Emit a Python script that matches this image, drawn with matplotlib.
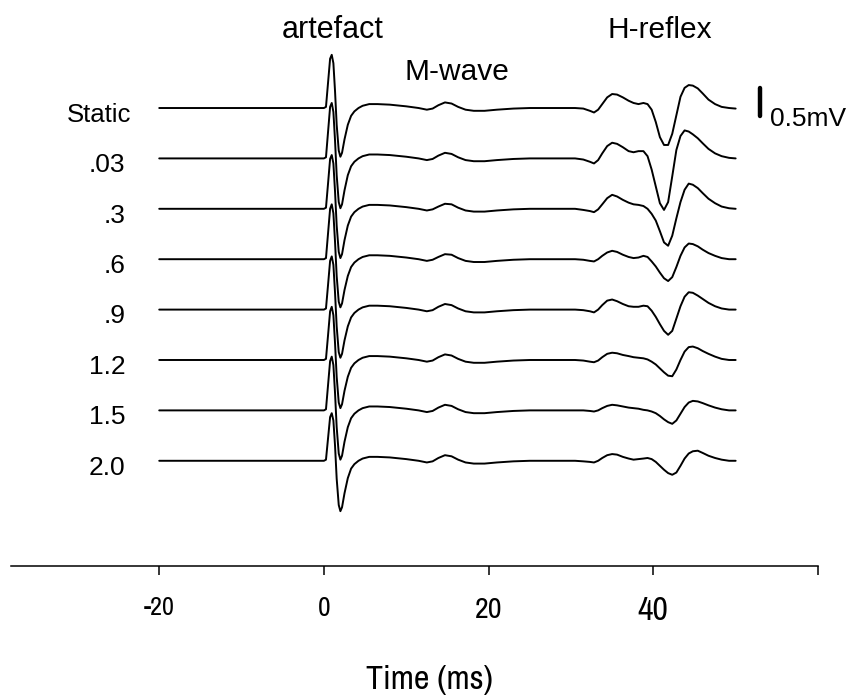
import numpy as np
import matplotlib
matplotlib.use("Agg")
import matplotlib.pyplot as plt
from matplotlib import font_manager

# ---- data: time base (ms) and EMG traces (mV, relative to each baseline) ----
time_ms = [-20, -10, 0, 0.25, 0.5, 0.75, 0.95, 1.15, 1.35, 1.55, 1.8, 2.0, 2.2,
           2.5, 2.9, 3.3, 3.7, 4.2, 4.7, 5.5, 6.5, 8, 10, 11.5, 12.5, 13.2, 13.9,
           14.7, 15.5, 16.3, 17.2, 18.2, 19.5, 21, 23, 25, 27, 29,
           30.5, 31.5, 32.3, 32.8, 33.3, 33.8, 34.4, 35.0, 35.6, 36.3, 37.0,
           37.6, 38.2, 38.8, 39.3, 39.8, 40.3, 40.8, 41.3, 41.8, 42.3, 42.8,
           43.3, 43.8, 44.3, 44.8, 45.4, 46.0, 46.7, 47.5, 48.3, 49.2, 50]

trace_static = [0, 0, 0, 0.02, 0.45, 0.88, 0.95, 0.80, 0.30, -0.30, -0.76, -0.87, -0.80,
                -0.56, -0.30, -0.14, -0.06, 0.00, 0.04, 0.07, 0.07, 0.06, 0.03, 0.00, -0.03, -0.01, 0.05,
                0.10, 0.08, 0.02, -0.03, -0.05, -0.05, -0.03, -0.01, 0.00, 0.00, 0.00,
                0.00, -0.01, -0.05, -0.08, -0.03, 0.07, 0.19, 0.25, 0.24, 0.19, 0.13,
                0.09, 0.07, 0.09, 0.07, -0.03, -0.25, -0.52, -0.66, -0.66, -0.46, -0.13,
                0.20, 0.36, 0.41, 0.40, 0.35, 0.26, 0.15, 0.07, 0.02, 0.00, -0.01]
trace_003 = [0, 0, 0, 0.02, 0.47, 0.92, 0.99, 0.83, 0.32, -0.30, -0.78, -0.89, -0.82,
             -0.57, -0.30, -0.14, -0.06, 0.00, 0.04, 0.07, 0.07, 0.06, 0.03, 0.00, -0.03, -0.01, 0.05,
             0.10, 0.08, 0.02, -0.03, -0.05, -0.05, -0.03, -0.01, 0.00, 0.00, 0.00,
             0.00, -0.02, -0.06, -0.09, -0.03, 0.09, 0.22, 0.28, 0.26, 0.20, 0.13,
             0.11, 0.13, 0.13, 0.04, -0.20, -0.50, -0.80, -0.92, -0.78, -0.32, 0.15,
             0.40, 0.50, 0.48, 0.43, 0.36, 0.27, 0.17, 0.09, 0.04, 0.01, 0.00]
trace_03 = [0, 0, 0, 0.02, 0.45, 0.89, 0.96, 0.81, 0.31, -0.30, -0.77, -0.88, -0.81,
            -0.56, -0.30, -0.14, -0.06, 0.00, 0.04, 0.07, 0.07, 0.06, 0.03, 0.00, -0.03, -0.01, 0.04,
            0.09, 0.08, 0.02, -0.03, -0.05, -0.05, -0.03, -0.01, 0.00, 0.00, 0.00,
            0.00, -0.02, -0.04, -0.06, -0.01, 0.08, 0.19, 0.25, 0.22, 0.16, 0.11,
            0.08, 0.07, 0.05, 0.00, -0.09, -0.21, -0.40, -0.60, -0.66, -0.48, -0.17,
            0.12, 0.34, 0.45, 0.43, 0.37, 0.28, 0.18, 0.10, 0.04, 0.01, 0.00]
trace_06 = [0, 0, 0, 0.02, 0.46, 0.90, 0.98, 0.82, 0.31, -0.30, -0.76, -0.86, -0.79,
            -0.55, -0.30, -0.14, -0.06, 0.00, 0.04, 0.07, 0.07, 0.06, 0.03, 0.00, -0.03, -0.01, 0.04,
            0.09, 0.08, 0.02, -0.03, -0.05, -0.05, -0.03, -0.01, 0.00, 0.00, 0.00,
            0.00, -0.01, -0.03, -0.04, 0.00, 0.06, 0.12, 0.15, 0.13, 0.08, 0.04,
            0.02, 0.03, 0.06, 0.04, -0.04, -0.13, -0.24, -0.34, -0.39, -0.32, -0.14,
            0.06, 0.21, 0.28, 0.27, 0.23, 0.17, 0.11, 0.06, 0.02, 0.00, 0.00]
trace_09 = [0, 0, 0, 0.02, 0.44, 0.87, 0.95, 0.80, 0.30, -0.30, -0.76, -0.86, -0.79,
            -0.55, -0.30, -0.14, -0.06, 0.00, 0.04, 0.07, 0.07, 0.06, 0.03, 0.00, -0.03, -0.01, 0.05,
            0.10, 0.08, 0.02, -0.03, -0.05, -0.05, -0.03, -0.01, 0.00, 0.00, 0.00,
            0.00, -0.01, -0.03, -0.05, 0.00, 0.08, 0.16, 0.18, 0.15, 0.10, 0.06,
            0.05, 0.05, 0.07, 0.06, -0.02, -0.13, -0.26, -0.38, -0.45, -0.38, -0.16,
            0.06, 0.23, 0.31, 0.30, 0.25, 0.19, 0.12, 0.06, 0.02, 0.00, 0.00]
trace_12 = [0, 0, 0, 0.02, 0.44, 0.87, 0.95, 0.80, 0.30, -0.30, -0.76, -0.86, -0.79,
            -0.55, -0.30, -0.14, -0.06, 0.00, 0.04, 0.07, 0.07, 0.06, 0.03, 0.00, -0.03, -0.01, 0.05,
            0.10, 0.08, 0.02, -0.03, -0.05, -0.05, -0.03, -0.01, 0.00, 0.00, 0.00,
            0.00, -0.01, -0.03, -0.04, -0.01, 0.05, 0.11, 0.13, 0.12, 0.09, 0.07,
            0.05, 0.04, 0.03, 0.01, -0.03, -0.08, -0.15, -0.22, -0.28, -0.29, -0.17,
            0.00, 0.15, 0.23, 0.24, 0.21, 0.16, 0.11, 0.06, 0.02, 0.00, 0.00]
trace_15 = [0, 0, 0, 0.02, 0.45, 0.88, 0.96, 0.81, 0.31, -0.30, -0.77, -0.88, -0.81,
            -0.56, -0.30, -0.14, -0.06, 0.00, 0.04, 0.07, 0.07, 0.06, 0.03, 0.00, -0.03, -0.01, 0.05,
            0.10, 0.08, 0.02, -0.03, -0.05, -0.05, -0.03, -0.01, 0.00, 0.00, 0.00,
            0.00, 0.00, -0.01, -0.02, 0.00, 0.04, 0.08, 0.10, 0.09, 0.07, 0.05,
            0.04, 0.03, 0.01, 0.00, -0.02, -0.05, -0.10, -0.16, -0.21, -0.24, -0.18,
            -0.06, 0.06, 0.14, 0.17, 0.16, 0.13, 0.09, 0.05, 0.02, 0.00, 0.00]
trace_20 = [0, 0, 0, 0.02, 0.40, 0.78, 0.85, 0.72, 0.27, -0.32, -0.79, -0.90, -0.83,
            -0.58, -0.31, -0.14, -0.06, 0.00, 0.04, 0.07, 0.07, 0.06, 0.03, 0.00, -0.03, -0.01, 0.05,
            0.10, 0.08, 0.02, -0.03, -0.05, -0.05, -0.03, -0.01, 0.00, 0.00, 0.00,
            0.00, -0.01, -0.02, -0.03, 0.00, 0.05, 0.10, 0.12, 0.11, 0.07, 0.04,
            0.02, 0.03, 0.04, 0.05, 0.03, -0.02, -0.09, -0.16, -0.22, -0.25, -0.21,
            -0.09, 0.04, 0.13, 0.17, 0.18, 0.14, 0.09, 0.05, 0.02, 0.00, 0.00]

trace_labels = ["Static", ".03", ".3", ".6", ".9", "1.2", "1.5", "2.0"]
traces = [trace_static, trace_003, trace_03, trace_06, trace_09, trace_12, trace_15, trace_20]

x_ticks = [-20, 0, 20, 40, 60]
x_tick_labels = ["-20", "0", "20", "40", ""]

scale_bar_mv = 0.5

# ---- fonts ----
available = {f.name for f in font_manager.fontManager.ttflist}
narrow = next((n for n in ("Arial Narrow", "Liberation Sans Narrow", "Archivo Narrow",
                           "Roboto Condensed", "PT Sans Narrow", "IBM Plex Sans Condensed")
               if n in available), "Liberation Sans")
plt.rcParams["font.family"] = ["Liberation Sans", "DejaVu Sans"]

# ---- figure ----
fig = plt.figure(figsize=(8.52, 6.98), dpi=100)
ax = fig.add_axes([11 / 852, 132 / 698, 807 / 852, 566 / 698])

spacing = 0.9
t = np.asarray(time_ms)
for i, (lab, vals) in enumerate(zip(trace_labels, traces)):
    off = -spacing * i
    ax.plot(t, np.asarray(vals) + off, color="black", lw=1.4,
            solid_joinstyle="round", solid_capstyle="round")
    if lab == "Static":
        ax.text(-23.4, off - 0.12, lab, ha="right", va="center", fontsize=18.5)
    else:
        ax.text(-24.1, off - 0.12, lab, ha="right", va="center", fontsize=19)

# annotations
ax.text(1.1, 1.39, "artefact", ha="center", va="center", fontsize=22)
ax.text(16.2, 0.64, "M-wave", ha="center", va="center", fontsize=21.5)
ax.text(40.8, 1.39, "H-reflex", ha="center", va="center", fontsize=21.5)

# amplitude scale bar
ax.plot([53, 53], [-0.14, -0.14 + scale_bar_mv], color="black", lw=3.2,
        solid_capstyle="round")
ax.text(54.2, -0.2, "0.5mV", ha="left", va="center", fontsize=19)

ax.set_xlim(-38, 60)
ax.set_ylim(-8.179, 1.929)
for s in ("left", "right", "top"):
    ax.spines[s].set_visible(False)
ax.spines["bottom"].set_linewidth(1.1)
ax.set_yticks([])
ax.set_xticks(x_ticks)
ax.set_xticklabels(x_tick_labels, fontfamily=narrow)
ax.tick_params(axis="x", direction="out", length=6.5, width=1.1, pad=15)

ax.set_xlabel("Time (ms)", fontfamily=narrow, fontsize=21)
ax.xaxis.label.set_va("center")
ax.xaxis.set_label_coords(0.519, -0.201)

# condensed labels: size each one from its printed width in pixels
renderer = fig.canvas.get_renderer()
tall = 1.15
tick_widths_px = [27, 11, 24, 27, 1]
for lbl, w in zip(ax.get_xticklabels(), tick_widths_px):
    if lbl.get_text():
        lbl.set_fontsize(20)
        cur = lbl.get_window_extent(renderer).width
        lbl.set_fontsize(20 * w / cur * tall)
xl = ax.xaxis.label
cur = xl.get_window_extent(renderer).width
xl.set_fontsize(21 * 111 / cur * tall)

fig.savefig("out.png", dpi=100)
